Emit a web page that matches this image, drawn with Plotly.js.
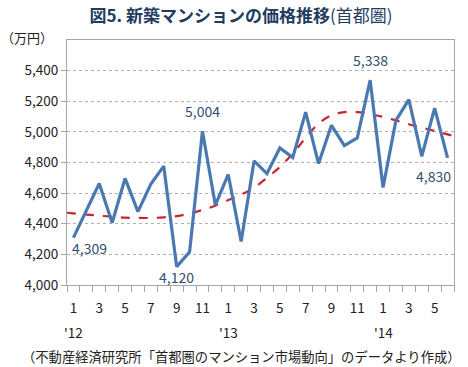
<!DOCTYPE html>
<html><head><meta charset="utf-8">
<script src="https://cdn.plot.ly/plotly-3.0.1.min.js"></script>
<style>html,body{margin:0;padding:0;background:#fff}#c{width:468px;height:367px}</style>
</head><body><div id="c"></div>
<script>
const months = [1,2,3,4,5,6,7,8,9,10,11,12,1,2,3,4,5,6,7,8,9,10,11,12,1,2,3,4,5,6];
const years = ["'12","","","","","","","","","","","","'13","","","","","","","","","","","","'14","","","","",""];
const price = [4309,4485,4663,4407,4696,4479,4659,4776,4120,4215,5004,4522,4722,4284,4810,4728,4895,4832,5129,4793,5043,4910,4960,5338,4637,5075,5210,4841,5155,4830];
const trendX = [0.5,1,2,3,4,5,6,7,8,9,10,11,12,13,14,15,16,17,18,19,20,21,22,23,24,25,26,27,28,29,30,30.5];
const trend = [4472,4468,4460,4453,4446,4440,4438,4438,4442,4450,4466,4490,4518,4555,4590,4635,4700,4771,4859,4960,5054,5108,5129,5129,5116,5098,5075,5050,5028,5006,4984,4972];
const labelIdx = [0,8,10,23,29];
const yTicks = [4000,4200,4400,4600,4800,5000,5200,5400];

const x = price.map((_, i) => i + 1);
const fmt = v => v.toLocaleString('en-US');
const tickvals = [], ticktext = [];
months.forEach((m, i) => { if (m % 2 === 1) { tickvals.push(i + 1); ticktext.push(String(m)); } });

const labelPos = {0:[16,10],8:[0,10],10:[0,-20],23:[0,-20],29:[-14,18]};
const annotations = labelIdx.map(i => ({
  x: x[i], y: price[i], xref:'x', yref:'y', text: fmt(price[i]), showarrow:false,
  xshift: labelPos[i][0], yshift: -labelPos[i][1], font:{size:14, color:'#2f4f6f', family:'Noto Sans CJK JP'}
}));
years.forEach((yr, i) => { if (yr) annotations.push({x: x[i], xref:'x', yref:'paper', y:-0.19, yanchor:'middle', text: yr, showarrow:false, font:{size:13.5,color:'#222',family:'Noto Sans CJK JP'}}); });
annotations.push({xref:'paper', yref:'paper', x:-0.03, y:1.01, xanchor:'right', yanchor:'middle', text:'（万円）', showarrow:false, font:{size:13,color:'#222',family:'Noto Sans CJK JP'}});
annotations.push({xref:'paper', yref:'paper', x:0.45, y:-0.29, xanchor:'center', yanchor:'middle', text:'（不動産経済研究所「首都圏のマンション市場動向」のデータより作成）', showarrow:false, font:{size:13.3,color:'#222',family:'Noto Sans CJK JP'}});

const data = [
  {x: trendX, y: trend, type:'scatter', mode:'lines', line:{color:'#c8262c', width:2.2, dash:'dash', shape:'spline'}, hoverinfo:'skip', cliponaxis:true},
  {x: x, y: price, type:'scatter', mode:'lines', line:{color:'#4a79b2', width:3.2}}
];
const layout = {
  width:468, height:367, showlegend:false,
  margin:{l:67, r:14, t:40, b:82},
  paper_bgcolor:'#fff', plot_bgcolor:'#fff',
  title:{text:'<b>図5. 新築マンションの価格推移</b>(首都圏)', x:0.515, xanchor:'center', y:0.955, yanchor:'middle', font:{size:17, color:'#1f3d5e', family:'Noto Sans CJK JP'}},
  xaxis:{range:[0.5,30.5], tickvals:tickvals, ticktext:ticktext, ticks:'', showgrid:false, zeroline:false,
    showline:true, linecolor:'#a6a6a6', linewidth:1, mirror:true, ticklabelstandoff:11,
    tickfont:{size:13.5,color:'#222',family:'Noto Sans CJK JP'},
    minor:{tickvals: trendX.slice(0,31).map((v,i)=>i+0.5), ticks:'outside', ticklen:6, tickcolor:'#a6a6a6', showgrid:false}},
  yaxis:{range:[4000,5600], tickvals:yTicks, ticktext:yTicks.map(fmt), ticks:'outside', ticklen:5, tickcolor:'#a6a6a6',
    showgrid:true, gridcolor:'#b0b0b0', griddash:'dot', gridwidth:1, zeroline:false,
    showline:true, linecolor:'#a6a6a6', linewidth:1, mirror:true,
    tickfont:{size:13.5,color:'#222',family:'Noto Sans CJK JP'}},
  annotations: annotations
};
Plotly.newPlot('c', data, layout, {displayModeBar:false, staticPlot:true});
</script></body></html>
